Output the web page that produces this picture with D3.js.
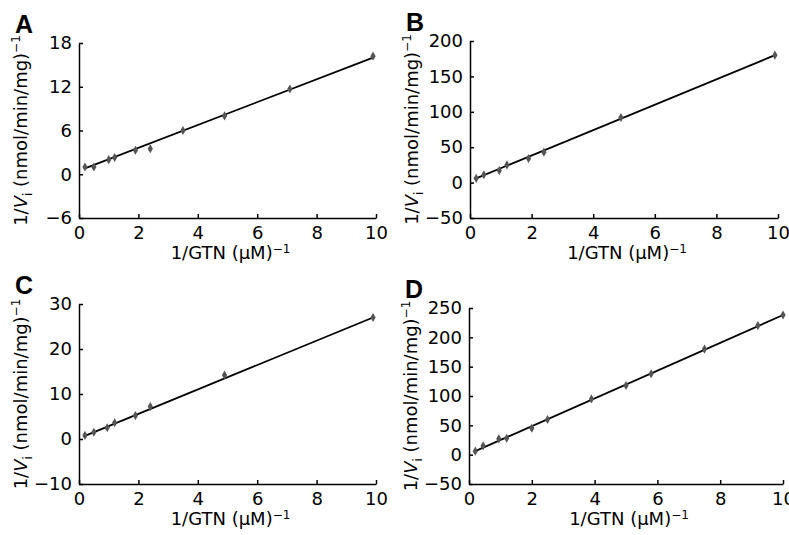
<!DOCTYPE html>
<html>
<head>
<meta charset="utf-8">
<script src="https://cdn.jsdelivr.net/npm/d3@7"></script>
<style>
  body { margin: 0; background: #fff; }
  svg { font-family: "DejaVu Sans", sans-serif; }
</style>
</head>
<body>
<svg id="chart" width="789" height="535"></svg>
<script>
// Panel letters and axis ticks
const panelNames = ["A", "B", "C", "D"];
const xTicks = [0, 2, 4, 6, 8, 10];
const yTicksA = [-6, 0, 6, 12, 18];
const yTicksB = [-50, 0, 50, 100, 150, 200];
const yTicksC = [-10, 0, 10, 20, 30];
const yTicksD = [-50, 0, 50, 100, 150, 200, 250];

// Measured points (1/GTN, 1/Vi)
const gtnA = [0.2, 0.5, 1.0, 1.2, 1.9, 2.4, 3.5, 4.9, 7.1, 9.9];
const rateA = [1.0, 1.0, 2.0, 2.3, 3.3, 3.5, 6.0, 8.0, 11.7, 16.2];
const gtnB = [0.2, 0.45, 0.95, 1.2, 1.9, 2.4, 4.9, 9.9];
const rateB = [6, 11, 17, 25, 34, 43, 92, 180];
const gtnC = [0.2, 0.5, 0.95, 1.2, 1.9, 2.4, 4.9, 9.9];
const rateC = [0.8, 1.5, 2.5, 3.6, 5.2, 7.2, 14.2, 27.0];
const gtnD = [0.2, 0.45, 0.95, 1.2, 2.0, 2.5, 3.9, 5.0, 5.8, 7.5, 9.2, 10.0];
const rateD = [6, 15, 27, 28, 45, 60, 95, 118, 138, 180, 220, 238];

// Fitted lines (end points)
const fitXA = [0.2, 9.9], fitYA = [0.8, 16.0];
const fitXB = [0.2, 9.9], fitYB = [6, 180];
const fitXC = [0.2, 9.9], fitYC = [0.7, 27.0];
const fitXD = [0.2, 10.0], fitYD = [6, 238];

const panels = [
  { name: panelNames[0], ticks: yTicksA, gx: gtnA, gy: rateA, fx: fitXA, fy: fitYA, left: 79, right: 376, top: 43, bottom: 218 },
  { name: panelNames[1], ticks: yTicksB, gx: gtnB, gy: rateB, fx: fitXB, fy: fitYB, left: 470, right: 778, top: 41, bottom: 218 },
  { name: panelNames[2], ticks: yTicksC, gx: gtnC, gy: rateC, fx: fitXC, fy: fitYC, left: 79, right: 376, top: 304, bottom: 484 },
  { name: panelNames[3], ticks: yTicksD, gx: gtnD, gy: rateD, fx: fitXD, fy: fitYD, left: 469, right: 783, top: 308, bottom: 484 }
];

const svg = d3.select("#chart");
const fontSize = 18;
const smallSize = 12;

panels.forEach(p => {
  const x = d3.scaleLinear().domain([0, 10]).range([p.left, p.right]);
  const y = d3.scaleLinear().domain([p.ticks[0], p.ticks[p.ticks.length - 1]]).range([p.bottom, p.top]);

  const g = svg.append("g");

  // x axis, ticks pointing inward
  const xa = g.append("g")
    .attr("transform", `translate(0,${p.bottom})`)
    .call(d3.axisBottom(x).tickValues(xTicks).tickSizeInner(-4).tickSizeOuter(0).tickPadding(8));
  // y axis
  const ya = g.append("g")
    .attr("transform", `translate(${p.left},0)`)
    .call(d3.axisLeft(y).tickValues(p.ticks).tickSizeInner(-4).tickSizeOuter(0).tickPadding(7));

  [xa, ya].forEach(a => {
    a.attr("font-family", null).attr("font-size", null);
    a.selectAll("path").attr("stroke", "#000").attr("stroke-width", 1.5);
    a.selectAll("line").attr("stroke", "#000").attr("stroke-width", 1.5);
    a.selectAll("text").attr("font-size", fontSize).attr("fill", "#000");
  });

  // fit line
  g.append("line")
    .attr("x1", x(p.fx[0])).attr("y1", y(p.fy[0]))
    .attr("x2", x(p.fx[1])).attr("y2", y(p.fy[1]))
    .attr("stroke", "#000").attr("stroke-width", 1.8);

  // data markers (small gray diamonds)
  const pts = p.gx.map((v, i) => [v, p.gy[i]]);
  g.selectAll(".pt").data(pts).enter().append("path")
    .attr("class", "pt")
    .attr("d", d3.symbol(d3.symbolDiamond, 24))
    .attr("transform", d => `translate(${x(d[0])},${y(d[1])})`)
    .attr("fill", "#555");

  // x axis title
  const xt = g.append("text")
    .attr("x", (p.left + p.right) / 2 + 3)
    .attr("y", p.bottom + 41)
    .attr("text-anchor", "middle")
    .attr("font-size", fontSize);
  xt.append("tspan").text("1/GTN (\u03bcM)");
  xt.append("tspan").attr("font-size", smallSize).attr("dy", -6).text("\u22121");

  // y axis title
  const yt = g.append("text")
    .attr("transform", `translate(${p.left - 52},${(p.top + p.bottom) / 2}) rotate(-90)`)
    .attr("text-anchor", "middle")
    .attr("font-size", fontSize);
  yt.append("tspan").text("1/");
  yt.append("tspan").attr("font-style", "italic").text("V");
  yt.append("tspan").attr("font-size", smallSize).attr("dy", 5).text("i");
  yt.append("tspan").attr("dy", -5).text(" (nmol/min/mg)");
  yt.append("tspan").attr("font-size", smallSize).attr("dy", -7).text("\u22121");

  // panel letter
  g.append("text")
    .attr("x", p.left - 64)
    .attr("y", p.top - 10)
    .attr("font-size", 25)
    .attr("font-weight", "bold")
    .style("font-family", "'Liberation Sans', Arial, sans-serif")
    .text(p.name);
});
</script>
</body>
</html>
